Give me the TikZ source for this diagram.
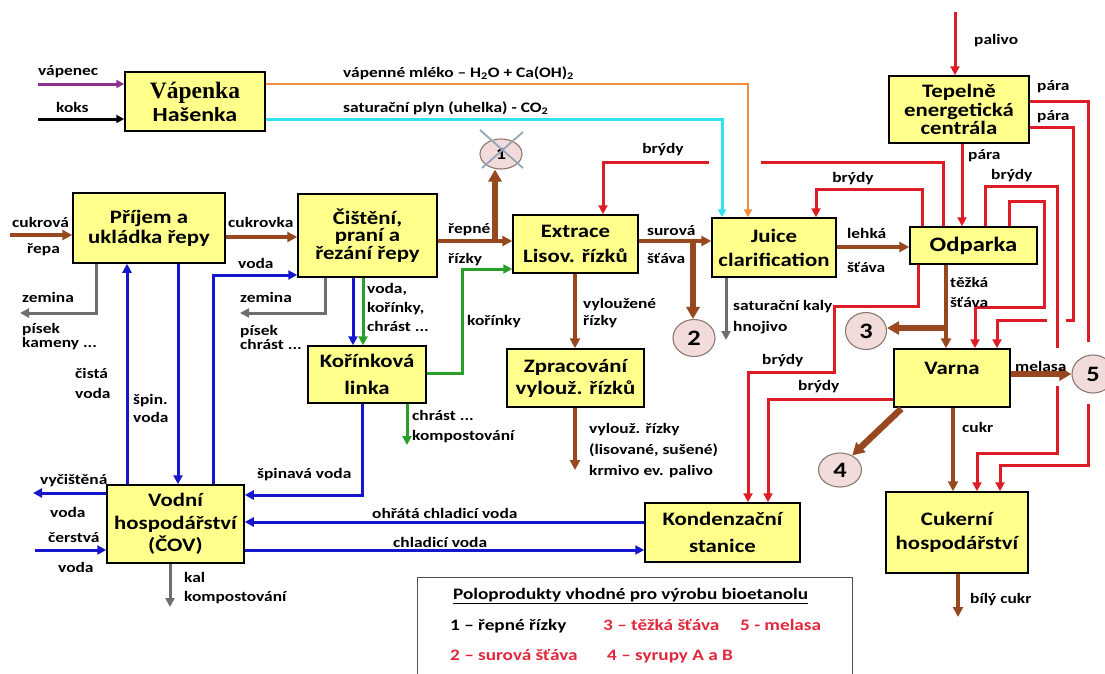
\documentclass[tikz,border=0pt]{standalone}
\usepackage{fontspec}
\setmainfont{Carlito}[FakeStretch=1.2]
\newfontfamily\vapserif{Liberation Serif}
\usetikzlibrary{arrows.meta,shapes.geometric,calc}

\definecolor{boxy}{RGB}{255,255,140}
\definecolor{brownc}{RGB}{152,72,30}
\definecolor{redc}{RGB}{222,28,38}
\definecolor{bluec}{RGB}{22,22,205}
\definecolor{greenc}{RGB}{40,160,40}
\definecolor{greyc}{RGB}{110,110,110}
\definecolor{orangec}{RGB}{240,140,60}
\definecolor{cyanc}{RGB}{50,225,235}
\definecolor{purplec}{RGB}{140,50,140}
\definecolor{circf}{RGB}{242,220,219}
\definecolor{circb}{RGB}{140,120,110}
\definecolor{crossc}{RGB}{150,165,185}
\definecolor{legred}{RGB}{225,40,60}

\newcommand\bx[1]{\fontsize{19}{#1}\selectfont\bfseries}
\newcommand\lf[1]{\fontsize{14.5}{#1}\selectfont\bfseries}

\tikzset{
  box/.style={draw=black, line width=1.5pt, fill=boxy, inner sep=0pt, align=center},
  num/.style={ellipse, draw=circb, line width=1.1pt, fill=circf, inner sep=0pt,
              font=\fontsize{22}{22}\selectfont\bfseries},
  lab/.style={inner sep=0pt, anchor=west, align=left, font={\lf{15}}},
  redl/.style={draw=redc, line width=3pt, -{Triangle[length=9pt,width=9pt]}},
  bluel/.style={draw=bluec, line width=3pt, -{Triangle[length=9pt,width=9pt]}},
  greenl/.style={draw=greenc, line width=3pt, -{Triangle[length=9pt,width=9pt]}},
  greyl/.style={draw=greyc, line width=3pt, -{Triangle[length=9pt,width=9pt]}},
  brownl/.style={draw=brownc, line width=4.5pt, -{Triangle[length=10pt,width=10pt]}},
  brownthick/.style={draw=brownc, line width=6.5pt, -{Triangle[length=12pt,width=13pt]}},
  feedl/.style={line width=3pt, -{Triangle[length=8pt,width=8pt]}},
  gapw/.style={draw=white, line width=6.5pt},
}

\begin{document}
\begin{tikzpicture}[x=1pt, y=-1pt]
\useasboundingbox (0,0) rectangle (1105,673);
\fill[white] (0,0) rectangle (1105,673);

% ---------- process units ----------
\node[box, minimum width=140pt, minimum height=59pt] (vap) at (195,101.5)
  {{\vapserif\fontsize{23.5}{23}\selectfont\bfseries Vápenka}\\[3pt]{\fontsize{20}{20}\selectfont\bfseries Hašenka}};
\node[box, minimum width=152pt, minimum height=70pt, font={\bx{20}}] (prijem) at (149,228) {Příjem a\\ukládka řepy};
\node[box, minimum width=139pt, minimum height=83pt, font={\bx{17.5}}] (cist) at (367.5,235.5) {Čištění,\\praní a\\řezání řepy};
\node[box, minimum width=125pt, minimum height=58pt, font={\bx{25}}] (extr) at (575.5,244) {Extrace\\Lisov. řízků};
\node[box, minimum width=118pt, minimum height=57pt, font={\bx{27}}] (kor) at (367,374.5) {Kořínková\\linka};
\node[box, minimum width=137pt, minimum height=58pt, font={\bx{22}}] (zprac) at (575.5,378) {Zpracování\\vylouž. řízků};
\node[box, minimum width=124pt, minimum height=59pt, font={\bx{24}}] (juice) at (774,247.5) {Juice\\clarification};
\node[box, minimum width=127pt, minimum height=37pt, font=\fontsize{20.5}{20}\selectfont\bfseries] (odp) at (973.5,245.5) {Odparka};
\node[box, minimum width=140pt, minimum height=67pt, font={\bx{18.5}}] (tep) at (959,109.5) {Tepelně\\energetická\\centrála};
\node[box, minimum width=116pt, minimum height=58pt, font={\bx{20}}] (varna) at (952,378) {Varna\\\mbox{}};
\node[box, minimum width=142pt, minimum height=81pt, font={\bx{24}}] (cuk) at (957,532.5) {Cukerní\\hospodářství};
\node[box, minimum width=155pt, minimum height=59pt, font={\bx{27}}] (kond) at (722.5,532.5) {Kondenzační\\stanice};
\node[box, minimum width=137pt, minimum height=78pt, font={\bx{22.5}}] (vodni) at (175.5,524) {Vodní\\hospodářství\\(ČOV)};

% ---------- free ends ----------
\coordinate (vapenec) at (38,84);
\coordinate (koks) at (38,119);
\coordinate (repa) at (10,235);
\coordinate (zem1) at (20,313);
\coordinate (zem2) at (240,313);
\coordinate (chrast) at (407,445);
\coordinate (krmivo) at (575,470);
\coordinate (kaly) at (726,340);
\coordinate (palivo) at (955,12);
\coordinate (bily) at (958,617);
\coordinate (vycist) at (33,493);
\coordinate (cerst) at (35,550);
\coordinate (kal) at (170,607);
\coordinate (rjunc) at (495,241);
\coordinate (sjunc) at (693,241);
\coordinate (tjunc) at (946,328);

% ---------- vapour (brýdy) and steam lines ----------
\draw[redl] (943,0 |- odp.north) |- (603,162) -- (603,0 |- extr.north);
\draw[gapw] (709,162) -- (761,162);
\draw[redl] (922,0 |- odp.north) |- (816,189) -- (816,0 |- juice.north);
\draw[redl] (palivo) -- (palivo |- tep.north);
\draw[redl] (962,0 |- tep.south) -- (962,0 |- odp.north);
\draw[redl] (tep.east |- 0,127) -| (1073,320) -| (997,0 |- varna.north);
\draw[gapw] (1047,320) -- (1066,320);
\draw[redl] (985,0 |- odp.north) |- (1057,186) |- (977,453) -- (977,0 |- cuk.north);
\draw[redl] (1009,0 |- odp.north) |- (1044,201) |- (975,307) -- (975,0 |- varna.north);
\draw[redl] (tep.east |- 0,101) -| (1088,465) -| (1000,0 |- cuk.north);
\draw[redl] (918,0 |- odp.south) |- (834,306) |- (748,372) -- (748,0 |- kond.north);
\draw[redl] (varna.west |- 0,399) -| (768,0 |- kond.north);
\draw[gapw] (1057,348) -- (1057,386);
\draw[gapw] (1088,342) -- (1088,404);

% ---------- lime kiln feeds ----------
\draw[feedl, draw=purplec] (vapenec) -- (vapenec -| vap.west);
\draw[feedl, draw=black] (koks) -- (koks -| vap.west);
\draw[feedl, draw=orangec, line width=2.8pt] (vapenec -| vap.east) -| (748,0 |- juice.north);
\draw[feedl, draw=cyanc] (koks -| vap.east) -| (722,0 |- juice.north);

% ---------- beet and juice path ----------
\draw[brownl] (repa) -- (repa -| prijem.west);
\draw[brownl] (prijem.east |- 0,237) -- (cist.west |- 0,237);
\draw[brownl] (cist.east |- rjunc) -- (extr.west |- rjunc);
\draw[brownl] (extr.east |- sjunc) -- (juice.west |- sjunc);
\draw[brownl] (575,0 |- extr.south) -- (575,0 |- zprac.north);
\draw[brownl] (575,0 |- zprac.south) -- (krmivo);
\draw[brownl] (juice.east |- 0,247) -- (odp.west |- 0,247);
\draw[brownl] (946,0 |- odp.south) -- (946,0 |- varna.north);
\draw[brownl] (953,0 |- varna.south) -- (953,0 |- cuk.north);
\draw[brownl] (958,0 |- cuk.south) -- (bily);

% ---------- waste ----------
\draw[greyl] (96,0 |- prijem.south) |- (zem1);
\draw[greyl] (325,0 |- cist.south) |- (zem2);
\draw[greyl] (726,0 |- juice.south) -- (kaly);
\draw[greyl] (170,0 |- vodni.south) -- (kal);

% ---------- water ----------
\draw[bluel] (127,0 |- vodni.north) -- (127,0 |- prijem.south);
\draw[bluel] (178,0 |- prijem.south) -- (178,0 |- vodni.north);
\draw[bluel] (213,0 |- vodni.north) |- (cist.west |- 0,275);
\draw[bluel] (353,0 |- cist.south) -- (353,0 |- kor.north);
\draw[bluel] (362,0 |- kor.south) |- (vodni.east |- 0,495);
\draw[bluel] (vodni.west |- vycist) -- (vycist);
\draw[bluel] (cerst) -- (cerst -| vodni.west);
\draw[bluel] (kond.west |- 0,522) -- (vodni.east |- 0,522);
\draw[bluel] (vodni.east |- 0,550) -- (kond.west |- 0,550);

% ---------- rootlets ----------
\draw[greenl] (363,0 |- cist.south) -- (363,0 |- kor.north);
\draw[greenl] (407,0 |- kor.south) -- (chrast);
\draw[greenl] (kor.east |- 0,373) -| (462,269) -- (extr.west |- 0,269);

% ---------- intermediate products ----------
\node[num, minimum width=42pt, minimum height=30pt, font=\fontsize{17}{17}\selectfont\bfseries] (c1) at (501,154) {1};
\draw[crossc, line width=1.8pt] ($(c1)+(-21,-24)$) -- ($(c1)+(22,14)$);
\draw[crossc, line width=1.8pt] ($(c1)+(22,-22)$) -- ($(c1)+(-19,14)$);
\node[num, minimum width=42pt, minimum height=37pt] (c2) at (694,338) {2};
\node[num, minimum width=41pt, minimum height=37pt] (c3) at (866,331) {3};
\node[num, minimum width=43pt, minimum height=34pt] (c4) at (840,470) {4};
\node[num, minimum width=42pt, minimum height=38pt] (c5) at (1093,374) {5};
\draw[brownthick] (rjunc) -- (rjunc |- c1.south);
\draw[brownthick] (sjunc) -- (sjunc |- c2.north);
\draw[brownthick] (tjunc) -- (tjunc -| c3.east);
\draw[brownthick] (varna.east |- c5.west) -- (c5.west);
\draw[brownthick] ($(varna.south west)+(8,1)$) -- (c4.50);

% ---------- labels ----------
\node[lab] (t-vapenec) at (38,72) {vápenec};
\node[lab] (t-koks) at (56,107) {koks};
\node[lab] (t-mleko) at (343,73) {vápenné mléko – H\textsubscript{2}O + Ca(OH)\textsubscript{2}};
\node[lab] (t-plyn) at (343,108) {saturační plyn (uhelka) - CO\textsubscript{2}};
\node[lab] (t-cukrova) at (12,222) {cukrová};
\node[lab] (t-repa) at (27,250) {řepa};
\node[lab] (t-cukrovka) at (228,222) {cukrovka};
\node[lab] (t-zemina1) at (22,297) {zemina};
\node[lab, font={\lf{14}}] (t-pisek1) at (22,337) {písek\\kameny ...};
\node[lab, font={\lf{20}}] (t-cista) at (75,383) {čistá\\voda};
\node[lab, font={\lf{18}}] (t-spin) at (133,408) {špin.\\voda};
\node[lab] (t-voda1) at (238,263) {voda};
\node[lab] (t-zemina2) at (240,297) {zemina};
\node[lab, font={\lf{14}}] (t-pisek2) at (240,337) {písek\\chrást ...};
\node[lab, font={\lf{19}}] (t-korinky1) at (367,307) {voda,\\kořínky,\\chrást ...};
\node[lab] (t-korinky2) at (467,322) {kořínky};
\node[lab] (t-repne) at (448,230) {řepné};
\node[lab] (t-rizky) at (448,260) {řízky};
\node[lab, anchor=center] (t-brydy1) at (663,150) {brýdy};
\node[lab] (t-surova) at (647,231) {surová};
\node[lab] (t-stava1) at (647,258) {šťáva};
\node[lab, font={\lf{17}}] (t-vylouzene) at (583,313) {vyloužené\\řízky};
\node[lab, font={\lf{20}}] (t-chrast) at (412,427) {chrást ...\\kompostování};
\node[lab, font={\lf{21}}] (t-krmivo) at (589,451) {vylouž. řízky\\(lisované, sušené)\\krmivo ev. palivo};
\node[lab, font={\lf{21}}] (t-kaly) at (733,317) {saturační kaly\\hnojivo};
\node[lab, anchor=center] (t-brydy2) at (853,179) {brýdy};
\node[lab] (t-lehka) at (847,233) {lehká};
\node[lab] (t-stava2) at (847,267) {šťáva};
\node[lab] (t-palivo) at (974,41) {palivo};
\node[lab] (t-para1) at (1037,87) {pára};
\node[lab] (t-para2) at (1037,117) {pára};
\node[lab] (t-para3) at (968,156) {pára};
\node[lab] (t-brydy3) at (991,176) {brýdy};
\node[lab, font={\lf{20}}] (t-tezka) at (950,292) {těžká\\šťáva};
\node[lab] (t-brydy4) at (762,361) {brýdy};
\node[lab] (t-brydy5) at (798,387) {brýdy};
\node[lab] (t-melasa) at (1015,366) {melasa};
\node[lab] (t-cukr) at (962,427) {cukr};
\node[lab] (t-bily) at (970,600) {bílý cukr};
\node[lab] (t-vycistena) at (40,481) {vyčištěná};
\node[lab] (t-voda2) at (50,512) {voda};
\node[lab] (t-cerstva) at (48,538) {čerstvá};
\node[lab] (t-voda3) at (58,567) {voda};
\node[lab] (t-spinava) at (257,475) {špinavá voda};
\node[lab] (t-ohrata) at (372,513) {ohřátá chladicí voda};
\node[lab] (t-chladici) at (393,542) {chladicí voda};
\node[lab, font={\lf{19}}] (t-kal) at (184,588) {kal\\kompostování};

% ---------- key to intermediate products ----------
\node[draw={rgb,255:red,80;green,80;blue,80}, line width=1.3pt, minimum width=435pt, minimum height=110pt,
      anchor=north west, inner sep=0pt] (leg) at (417,577) {};
\begin{scope}[every node/.style={inner sep=0pt, anchor=west, text height=11pt, text depth=4pt,
                                 font=\fontsize{16}{16}\selectfont\bfseries}]
\node (leg-title) at (453,596) {\underline{Poloprodukty vhodné pro výrobu bioetanolu}};
\node (leg-1) at (450,627) {1 – řepné řízky};
\node[text=legred] (leg-3) at (603,627) {3 – těžká šťáva};
\node[text=legred] (leg-5) at (740,627) {5 - melasa};
\node[text=legred] (leg-2) at (450,657) {2 – surová šťáva};
\node[text=legred] (leg-4) at (607,657) {4 – syrupy A a B};
\end{scope}
\end{tikzpicture}
\end{document}
